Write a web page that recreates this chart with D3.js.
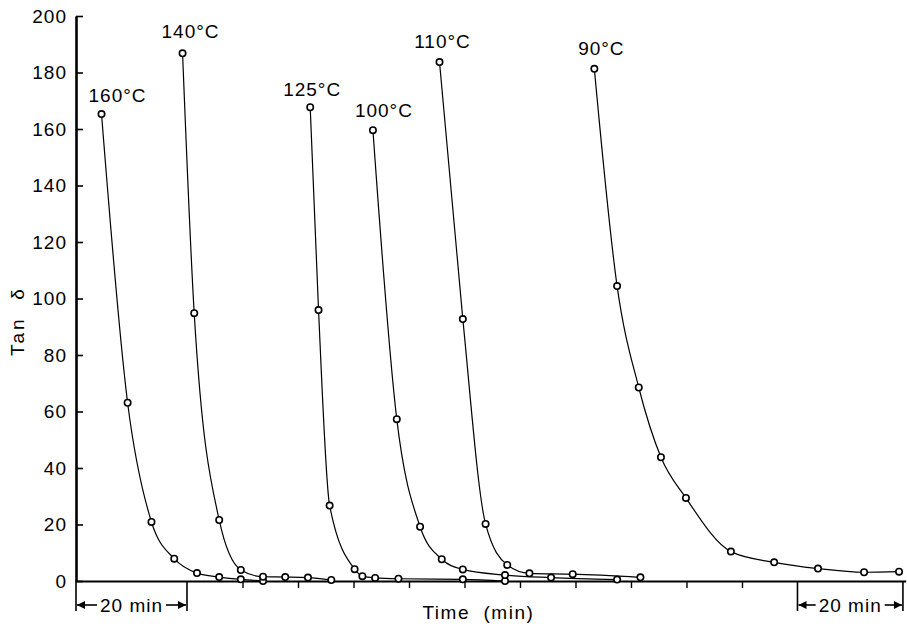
<!DOCTYPE html>
<html>
<head>
<meta charset="utf-8">
<script src="https://cdn.jsdelivr.net/npm/d3@7"></script>
<style>
  html, body { margin: 0; padding: 0; background: #fff; }
  svg { display: block; }
  text { font-family: "Liberation Sans", Arial, sans-serif; fill: #000; }
</style>
</head>
<body>
<svg id="chart" width="907" height="626"></svg>
<script>
// ---- Data (time in minutes, relative; Tan δ values) ----
const seriesLabels = ["160°C", "140°C", "125°C", "100°C", "110°C", "90°C"];

const t160 = [4.6, 9.3, 13.6, 17.7, 21.8, 25.8, 29.7, 33.7];
const v160 = [165.3, 63.1, 20.9, 7.9, 2.8, 1.4, 0.6, 0.0];

const t140 = [19.2, 21.3, 25.8, 29.7, 33.7, 37.7, 41.8, 46.0];
const v140 = [186.8, 94.8, 21.6, 3.9, 1.5, 1.4, 1.2, 0.35];

const t125 = [42.2, 43.7, 45.7, 50.2, 51.6, 53.9, 58.1, 69.7, 77.3];
const v125 = [167.7, 95.9, 26.7, 4.2, 1.7, 1.1, 0.8, 0.6, 0.0];

const t100 = [53.5, 57.8, 62.0, 65.9, 69.7, 77.3, 85.6, 97.5];
const v100 = [159.6, 57.3, 19.2, 7.7, 4.1, 2.1, 1.2, 0.5];

const t110 = [65.5, 69.7, 73.8, 77.7, 81.7, 89.5, 101.7];
const v110 = [183.7, 92.7, 20.2, 5.7, 2.7, 2.4, 1.3];

const t90 = [93.4, 97.5, 101.4, 105.4, 109.9, 118.0, 125.8, 133.7, 142.0, 148.3];
const v90 = [181.3, 104.4, 68.5, 43.8, 29.4, 10.4, 6.6, 4.4, 3.1, 3.3];

const yTicks = [0, 20, 40, 60, 80, 100, 120, 140, 160, 180, 200];
const xTicks = [30, 40, 50, 60, 70, 80, 90, 100, 110, 120];
const scaleBars = [[0, 20], [130, 149]];
const scaleBarLabel = "20 min";
const xTitle = "Time  (min)";
const yTitle = "Tan δ";

// ---- Build series ----
const times = [t160, t140, t125, t100, t110, t90];
const vals = [v160, v140, v125, v100, v110, v90];
const series = seriesLabels.map((name, i) => ({
  name,
  points: times[i].map((t, j) => ({ t, v: vals[i][j] }))
}));

// ---- Scales ----
const svg = d3.select("#chart");
const x = d3.scaleLinear().domain([0, 149.5]).range([76, 905.7]);
const y = d3.scaleLinear().domain([0, 200]).range([581, 16]);

// ---- Axes ----
const yAxis = d3.axisLeft(y).tickValues(yTicks).tickSizeInner(-7).tickSizeOuter(0).tickPadding(9);
const gy = svg.append("g").attr("transform", `translate(${x(0)},0)`).call(yAxis);
gy.select(".domain").attr("stroke", "#000").attr("stroke-width", 2.6);
gy.selectAll(".tick line").attr("stroke", "#000").attr("stroke-width", 1.6);
gy.selectAll(".tick text")
  .attr("font-size", 19).attr("letter-spacing", 1)
  .attr("font-family", "Liberation Sans, Arial, sans-serif").attr("fill", "#000");

const xAxis = d3.axisBottom(x).tickValues(xTicks).tickSizeInner(7).tickSizeOuter(0).tickFormat("");
const gx = svg.append("g").attr("transform", `translate(0,${y(0)})`).call(xAxis);
gx.select(".domain").attr("stroke", "#000").attr("stroke-width", 2.2);
gx.selectAll(".tick line").attr("stroke", "#000").attr("stroke-width", 1.4);

// ---- Titles ----
svg.append("text")
  .attr("transform", `translate(24,${y(92)}) rotate(-90)`)
  .attr("text-anchor", "middle")
  .attr("font-size", 19).attr("letter-spacing", 3)
  .style("white-space", "pre")
  .text(yTitle.replace(" ", "  "));

svg.append("text")
  .attr("x", x(72.5)).attr("y", 619)
  .attr("text-anchor", "middle")
  .attr("font-size", 19).attr("letter-spacing", 1.5)
  .style("white-space", "pre")
  .text(xTitle);

// ---- Scale bars "←20 min→" ----
const barTop = y(0), barBottom = 611, arrowY = 605;
scaleBars.forEach(([a, b]) => {
  const xa = x(a), xb = x(b), xm = (xa + xb) / 2;
  const g = svg.append("g");
  [xa, xb].forEach(xx => g.append("line")
    .attr("x1", xx).attr("x2", xx).attr("y1", barTop).attr("y2", barBottom)
    .attr("stroke", "#000").attr("stroke-width", 1.6));
  const txt = g.append("text")
    .attr("x", xm).attr("y", arrowY + 7)
    .attr("text-anchor", "middle")
    .attr("font-size", 19).attr("letter-spacing", 1)
    .text(scaleBarLabel);
  const w = txt.node().getComputedTextLength();
  const left = xm - w / 2 - 3, right = xm + w / 2 + 3;
  g.append("line").attr("x1", xa + 1).attr("x2", left).attr("y1", arrowY).attr("y2", arrowY)
    .attr("stroke", "#000").attr("stroke-width", 1.6);
  g.append("line").attr("x1", right).attr("x2", xb - 1).attr("y1", arrowY).attr("y2", arrowY)
    .attr("stroke", "#000").attr("stroke-width", 1.6);
  g.append("path").attr("d", `M${xa + 1},${arrowY} l8,-4 l0,8 z`).attr("fill", "#000");
  g.append("path").attr("d", `M${xb - 1},${arrowY} l-8,-4 l0,8 z`).attr("fill", "#000");
});

// ---- Curves ----
const line = d3.line().x(d => x(d.t)).y(d => y(d.v)).curve(d3.curveMonotoneX);
svg.append("g").selectAll("path").data(series).join("path")
  .attr("d", d => line(d.points))
  .attr("fill", "none").attr("stroke", "#000").attr("stroke-width", 1.2);

svg.append("g").selectAll("g").data(series).join("g")
  .selectAll("circle").data(d => d.points).join("circle")
  .attr("cx", d => x(d.t)).attr("cy", d => y(d.v)).attr("r", 3.2)
  .attr("fill", "#fff").attr("stroke", "#000").attr("stroke-width", 1.6);

// ---- Curve labels (placed relative to each curve's first point) ----
const labelDx = [16, 8, 2, 11, 3, 7];
const labelDy = [-12, -15, -11, -13, -14, -14];
svg.append("g").selectAll("text").data(series).join("text")
  .attr("x", (d, i) => x(d.points[0].t) + labelDx[i])
  .attr("y", (d, i) => y(d.points[0].v) + labelDy[i])
  .attr("text-anchor", "middle")
  .attr("font-size", 19).attr("letter-spacing", 1)
  .text(d => d.name);
</script>
</body>
</html>
